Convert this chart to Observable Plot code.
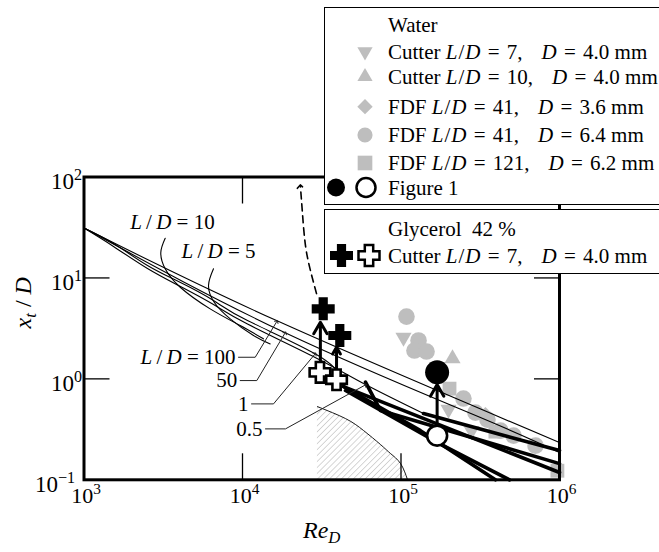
<!DOCTYPE html>
<html><head><meta charset="utf-8">
<script src="https://cdn.jsdelivr.net/npm/d3@7"></script>
<script src="https://cdn.jsdelivr.net/npm/@observablehq/plot@0.6"></script>
<style>
html,body{margin:0;padding:0;background:#fff;overflow:hidden;}
#wrap{position:relative;width:659px;height:552px;overflow:hidden;font-family:"Liberation Serif","Times New Roman",serif;}
#wrap > svg{position:absolute;left:0;top:0;}
.box{position:absolute;background:#fff;border:1.3px solid #000;box-sizing:border-box;}
.row{position:absolute;font-size:21px;line-height:24px;white-space:nowrap;color:#000;}
.sl{margin:0 1px;}
.eq{margin:0 2px;}
.gap{display:inline-block;width:19px;}
</style></head><body><div id="wrap"></div>
<script>
// ---------- axes ----------
const reTicks = [1e3, 1e4, 1e5, 1e6];
const reTickExp = ["3", "4", "5", "6"];
const xtTicks = [0.1, 1, 10, 100];
const xtTickExp = ["\u22121", "0", "1", "2"];
const reInnerTicks = [1e4, 1e5];
const xtInnerTicks = [1, 10];

// ---------- theory curves [Re_D, x_t/D] ----------
const lineLD100 = [[1000, 31.2], [16390, 3.78], [1e6, 0.234]];
const lineLD50 = [[1000, 31.2], [18590, 2.86], [317000, 0.4135], [1e6, 0.186]];
const lineLD1 = [[1000, 31.2], [1535, 21.9], [2515, 13.27], [4063, 9.0], [6562, 5.97], [10750, 3.78], [28740, 1.77], [43350, 1.0]];
const lineLD05 = [[1000, 31.2], [1535, 20.5], [2515, 12.4], [4063, 8.22], [6562, 5.45], [10750, 3.49], [28740, 1.63], [59700, 0.878], [138700, 0.453]];
const curveLD10 = [[3253, 24.7], [3052, 17.85], [3253, 12.31], [4046, 8.09], [6252, 4.94], [9672, 3.376], [13570, 2.49]];
const curveLD5 = [[6562, 12.31], [6103, 8.41], [6630, 5.74], [8364, 3.93], [11730, 2.686], [14960, 2.22]];

// thick curves
const thick1 = [[43350, 0.839], [132700, 0.307], [394000, 0.1]];
const thick2 = [[44670, 0.766], [169800, 0.234], [484000, 0.1]];
const thick3 = [[59700, 0.93], [74300, 0.485], [1e6, 0.1447]];
const thick4 = [[43350, 0.839], [1e6, 0.118]];
const thick5 = [[138700, 0.453], [1e6, 0.1947]];

// hatched region boundary
const hatchEdge = [[29700, 0.531], [44700, 0.404], [58000, 0.308], [74300, 0.2234], [85900, 0.182], [99300, 0.145], [110000, 0.1]];

// ---------- data points ----------
const cutter7 = [[103700, 2.57], [199400, 0.497], [278600, 0.307]];
const cutter10 = [[211300, 1.59]];
const fdf41D36 = [[341000, 0.443]];
const fdf41D64 = [[108300, 4.14], [129000, 2.40], [121600, 1.908], [144900, 1.865], [247700, 0.638], [295000, 0.463], [351300, 0.395], [424400, 0.307], [512700, 0.274], [706000, 0.218]];
const fdf121 = [[202300, 0.80], [394000, 0.30], [970000, 0.123]];
const fig1Filled = [[169000, 1.16]];
const fig1Open = [[169000, 0.274]];
const glyFilled = [[32300, 4.94], [41100, 2.69]];
const glyOpen = [[30800, 1.16], [39200, 0.98]];

// vertical arrows (open -> filled)
const riseRe = [31000, 39200, 169000];
const riseFrom = [1.46, 1.21, 0.352];
const riseTo = [3.64, 2.06, 0.878];

// dashed arrow
const dashedPath = [[29300, 7.0], [26850, 11.8], [24970, 20.9], [23900, 43.5], [23200, 80.5]];

// leader lines and labels
const leaderLabels = ["*L*\u2009/\u2009*D* = 100", "50", "1", "0.5"];
const leaders = [
  [[9437, 1.637], [12030, 1.637], [16460, 3.70]],
  [[9672, 0.962], [12310, 0.962], [18590, 2.86]],
  [[11400, 0.565], [15690, 0.565], [28740, 1.77]],
  [[13970, 0.3195], [18670, 0.3195], [59700, 0.872]]
];
const curveLabels = ["*L*\u2009/\u2009*D* = 10", "*L*\u2009/\u2009*D* = 5"];
const curveLabelPos = [[3614, 35.4], [7058, 18.3]];

// legend
const waterTitle = "Water";
const waterLabels = [
  "Cutter *L*/*D* = 7, *D* = 4.0 mm",
  "Cutter *L*/*D* = 10, *D* = 4.0 mm",
  "FDF *L*/*D* = 41, *D* = 3.6 mm",
  "FDF *L*/*D* = 41, *D* = 6.4 mm",
  "FDF *L*/*D* = 121, *D* = 6.2 mm"
];
const fig1Label = "Figure 1";
const glyTitle = "Glycerol\u00a0 42 %";
const glyLabel = "Cutter *L*/*D* = 7, *D* = 4.0 mm";

const xTitle = "*Re_{D}*";
const yTitle = "*x_{t}* / *D*";

// ---------- helpers ----------
const gray = "#bebebe";
const pts = (arr) => arr.map(([re, v]) => ({re, v}));
const invTriangle = {
  draw(ctx, size) {
    const y = -Math.sqrt(size / (Math.sqrt(3) * 3));
    ctx.moveTo(0, -y * 2);
    ctx.lineTo(-Math.sqrt(3) * y, y);
    ctx.lineTo(Math.sqrt(3) * y, y);
    ctx.closePath();
  }
};
// chunky plus: half-length b = sqrt(size/pi), half arm width a
const chunkyCross = {
  draw(ctx, size) {
    const b = Math.sqrt(size / Math.PI), a = b * 0.4;
    ctx.moveTo(-a, -b); ctx.lineTo(a, -b); ctx.lineTo(a, -a); ctx.lineTo(b, -a);
    ctx.lineTo(b, a); ctx.lineTo(a, a); ctx.lineTo(a, b); ctx.lineTo(-a, b);
    ctx.lineTo(-a, a); ctx.lineTo(-b, a); ctx.lineTo(-b, -a); ctx.lineTo(-a, -a);
    ctx.closePath();
  }
};
const XY = {x: "re", y: "v"};
const thin = {...XY, stroke: "black", strokeWidth: 1.1, curve: "natural"};
const thick = {...XY, stroke: "black", strokeWidth: 3.6, curve: "linear"};

const chart = Plot.plot({
  width: 659, height: 552,
  marginLeft: 83.5, marginRight: 100, marginTop: 176.5, marginBottom: 72.7,
  x: {type: "log", domain: [1e3, 1e6], label: null},
  y: {type: "log", domain: [0.1, 100], label: null},
  style: {fontFamily: '"Liberation Serif","Times New Roman",serif', fontSize: "20px", background: "white", color: "black", overflow: "visible"},
  marks: [
    Plot.areaY(pts(hatchEdge), {x: "re", y1: 0.1, y2: "v", fill: "url(#hatch)", curve: "natural"}),
    Plot.line(pts(hatchEdge), {...XY, stroke: "black", strokeWidth: 0.9, curve: "natural"}),
    Plot.dot(pts(fdf41D64), {...XY, r: 8.3, fill: gray, symbol: "circle"}),
    Plot.dot(pts(cutter7), {...XY, r: 6, fill: gray, symbol: invTriangle}),
    Plot.dot(pts(cutter10), {...XY, r: 6, fill: gray, symbol: "triangle"}),
    Plot.dot(pts(fdf121), {...XY, r: 7.8, fill: gray, symbol: "square"}),
    Plot.dot(pts(fdf41D36), {...XY, r: 6.8, fill: gray, symbol: "diamond2"}),
    ...[lineLD100, lineLD50, lineLD1, lineLD05, curveLD10, curveLD5].map(a => Plot.line(pts(a), thin)),
    ...[thick1, thick2, thick3, thick4, thick5].map(a => Plot.line(pts(a), thick)),
    ...leaders.map(a => Plot.line(pts(a), {...XY, stroke: "#222", strokeWidth: 1, markerEnd: "arrow"})),
    Plot.text(pts(leaders.map(l => l[0])), {...XY, text: (d, i) => leaderLabels[i], textAnchor: "end", dx: -3, fontSize: 21}),
    Plot.text(pts(curveLabelPos), {...XY, text: (d, i) => curveLabels[i], fontSize: 21}),
    Plot.line(pts(dashedPath), {...XY, stroke: "black", strokeWidth: 1.6, strokeDasharray: "7,5", curve: "natural", markerEnd: "arrow"}),
    Plot.arrow(riseRe, {x1: d => d, x2: d => d, y1: (d, i) => riseFrom[i], y2: (d, i) => riseTo[i], stroke: "black", strokeWidth: 3, headLength: 11}),
    Plot.dot(pts(glyFilled), {...XY, symbol: chunkyCross, r: 11.5, fill: "black"}),
    Plot.dot(pts(glyOpen), {...XY, symbol: chunkyCross, r: 10.3, fill: "white", stroke: "black", strokeWidth: 2.6}),
    Plot.dot(pts(fig1Filled), {...XY, r: 12, fill: "black"}),
    Plot.dot(pts(fig1Open), {...XY, r: 10, fill: "white", stroke: "black", strokeWidth: 2.6}),
    Plot.frame({stroke: "black", strokeWidth: 3}),
    Plot.axisX(reInnerTicks, {anchor: "bottom", tickSize: -26, tickFormat: () => "", label: null, strokeWidth: 1.3}),
    Plot.axisX(reInnerTicks, {anchor: "top", tickSize: -26, tickFormat: () => "", label: null, strokeWidth: 1.3}),
    Plot.axisY(xtInnerTicks, {anchor: "left", tickSize: -26, tickFormat: () => "", label: null, strokeWidth: 1.3}),
    Plot.axisY(xtInnerTicks, {anchor: "right", tickSize: -26, tickFormat: () => "", label: null, strokeWidth: 1.3}),
    Plot.text(reTicks, {x: d => d, frameAnchor: "bottom", dy: 23, dx: 2, text: (d, i) => `10^{${reTickExp[i]}}`, fontSize: 22}),
    Plot.text(xtTicks, {y: d => d, frameAnchor: "left", textAnchor: "end", dx: -2, dy: 5, filter: d => d >= 1, text: (d, i) => `10^{${xtTickExp[i]}}`, fontSize: 23}),
    Plot.text(xtTicks, {y: d => d, frameAnchor: "left", textAnchor: "end", dx: -9, dy: 5, filter: d => d < 1, text: (d, i) => `10^{${xtTickExp[i]}}`, fontSize: 23}),
    Plot.text([xTitle], {frameAnchor: "bottom", dy: 58, text: d => d, fontSize: 24}),
    Plot.text([yTitle], {frameAnchor: "left", dx: -61, rotate: -90, text: d => d, fontSize: 24})
  ]
});

// hatch pattern
d3.select(chart).insert("defs", ":first-child").html(
  '<pattern id="hatch" patternUnits="userSpaceOnUse" width="4.2" height="4.2" patternTransform="rotate(45)">' +
  '<line x1="0" y1="0" x2="0" y2="4.2" stroke="#999" stroke-width="0.8"/></pattern>');

// rich text: *italic*, ^{sup}, _{sub}
function richText(el) {
  const s = el.textContent;
  if (!/[*^_]/.test(s)) return;
  const parts = [];
  let italic = false, buf = "";
  const flush = () => { if (buf) parts.push({t: buf, italic, shift: 0}); buf = ""; };
  for (let i = 0; i < s.length; i++) {
    const c = s[i];
    if (c === "*") { flush(); italic = !italic; }
    else if ((c === "^" || c === "_") && s[i + 1] === "{") {
      flush();
      const j = s.indexOf("}", i);
      parts.push({t: s.slice(i + 2, j), italic, shift: c === "^" ? 1 : -1});
      i = j;
    } else buf += c;
  }
  flush();
  el.textContent = "";
  let cur = 0;
  for (const p of parts) {
    const ts = document.createElementNS("http://www.w3.org/2000/svg", "tspan");
    ts.textContent = p.t;
    if (p.italic) ts.setAttribute("font-style", "italic");
    const target = p.shift === 1 ? -9 : p.shift === -1 ? 5 : 0;
    if (target !== cur) { ts.setAttribute("dy", target - cur); cur = target; }
    if (p.shift) ts.setAttribute("font-size", "0.7em");
    el.appendChild(ts);
  }
}
d3.select(chart).selectAll("text").each(function () { richText(this); });

const wrap = d3.select("#wrap");
wrap.node().appendChild(chart);

// ---------- legend ----------
const toHtml = s => s
  .replace(/\//g, "\u0001")
  .replace(/ = /g, "\u0002")
  .replace(/, /g, "\u0003")
  .replace(/\*([^*]+)\*/g, "<i>$1</i>")
  .replace(/\u0001/g, '<span class="sl">/</span>')
  .replace(/\u0002/g, '<span class="eq">&nbsp;=&nbsp;</span>')
  .replace(/\u0003/g, ',<span class="gap"></span>');
wrap.append("div").attr("class", "box").style("left", "324px").style("top", "7px").style("width", "400px").style("height", "197.5px");
wrap.append("div").attr("class", "box").style("left", "324px").style("top", "209px").style("width", "400px").style("height", "64.5px");
const addRow = (txt, cy) => wrap.append("div").attr("class", "row").style("left", "388px").style("top", (cy - 12) + "px").html(toHtml(txt));
const waterRowY = [51.7, 76.7, 106.7, 135, 163];
addRow(waterTitle, 25);
waterLabels.forEach((t, i) => addRow(t, waterRowY[i]));
addRow(fig1Label, 187.5);
addRow(glyTitle, 228.5);
addRow(glyLabel, 255.5);

const lg = wrap.append("svg").attr("width", 659).attr("height", 552)
  .style("position", "absolute").style("left", "0px").style("top", "0px").style("pointer-events", "none");
const waterSyms = [[invTriangle, 100], [d3.symbolTriangle, 100], [d3.symbolDiamond2, 150], [d3.symbolCircle, 180], [d3.symbolSquare, 215]];
waterSyms.forEach(([t, s], i) => lg.append("path").attr("d", d3.symbol(t, s)()).attr("fill", gray)
  .attr("transform", `translate(365,${waterRowY[i]})`));
lg.append("circle").attr("cx", 336).attr("cy", 187.5).attr("r", 9).attr("fill", "black");
lg.append("circle").attr("cx", 366).attr("cy", 187.5).attr("r", 9.5).attr("fill", "white").attr("stroke", "black").attr("stroke-width", 2.5);
lg.append("path").attr("d", d3.symbol(chunkyCross, Math.PI * 11.5 * 11.5)()).attr("fill", "black").attr("transform", "translate(341.5,255.5)");
lg.append("path").attr("d", d3.symbol(chunkyCross, Math.PI * 10.5 * 10.5)()).attr("fill", "white").attr("stroke", "black").attr("stroke-width", 2.5).attr("transform", "translate(369,255.5)");
</script></body></html>
